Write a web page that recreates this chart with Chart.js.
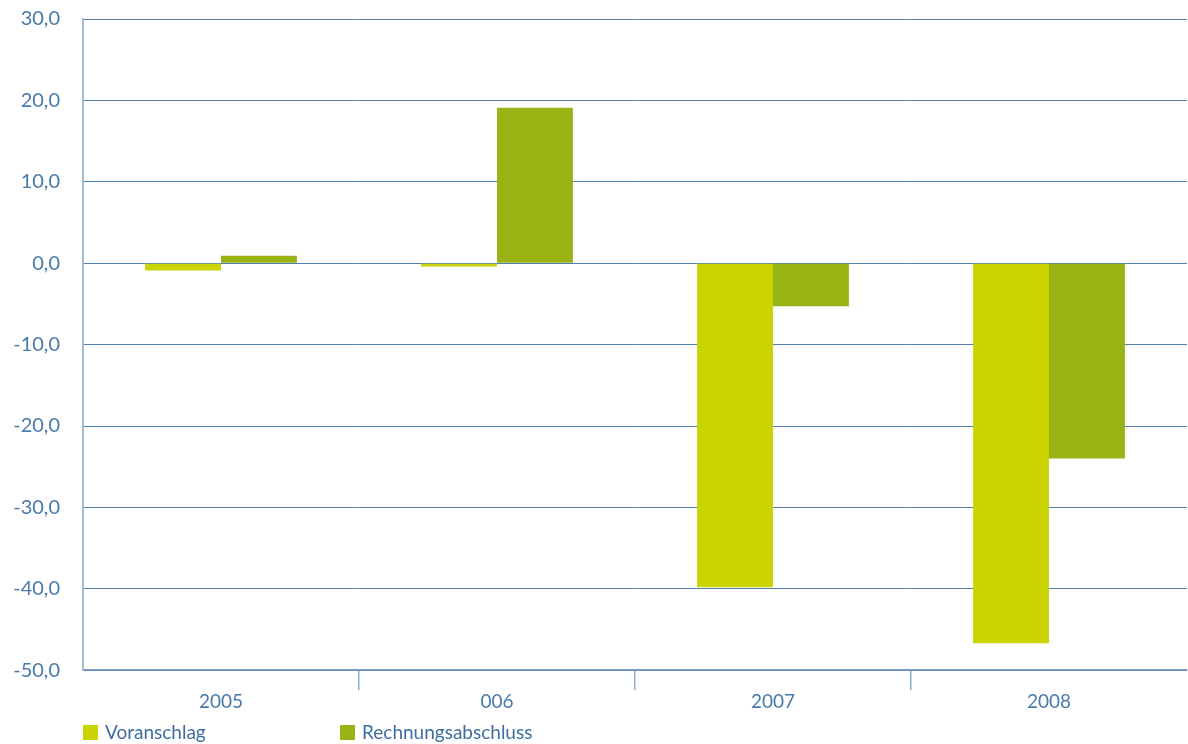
<!DOCTYPE html>
<html>
<head>
<meta charset="utf-8">
<script src="https://cdn.jsdelivr.net/npm/chart.js@4/dist/chart.umd.min.js"></script>
<style>
  html, body { margin: 0; padding: 0; background: #fff; }
  #wrap { position: relative; width: 1188px; height: 744px; }
  #legende { position: absolute; left: 83px; top: 720px; font-family: Lato, sans-serif; font-size: 19px; color: #3f6e9e; }
  .item { position: absolute; top: 0; white-space: nowrap; }
  .box { display: inline-block; width: 15px; height: 15px; vertical-align: -1px; margin-right: 7px; }
</style>
</head>
<body>
<div id="wrap">
  <canvas id="grafik" width="1188" height="744"></canvas>
  <div id="legende"></div>
</div>
<script>
// Daten
var jahre = ["2005", "006", "2007", "2008"];
var voranschlag = [-0.9, -0.4, -39.8, -46.7];
var rechnungsabschluss = [0.9, 19.1, -5.3, -24.0];

var farbeVoranschlag = "#c9d400";
var farbeRechnung = "#99b314";
var blau = "#4f80b0";
var textBlau = "#4a7aab";

// Rechter Rand über die letzte x-Gitterlinie, Striche unten nur zwischen den Jahren
var ctx = document.getElementById("grafik").getContext("2d");
var chart = new Chart(ctx, {
  type: "bar",
  data: {
    labels: jahre,
    datasets: [
      { label: "Voranschlag", data: voranschlag, backgroundColor: farbeVoranschlag, borderWidth: 0 },
      { label: "Rechnungsabschluss", data: rechnungsabschluss, backgroundColor: farbeRechnung, borderWidth: 0 }
    ]
  },
  options: {
    responsive: false,
    animation: false,
    layout: { padding: { top: 19, right: 1, bottom: 31, left: 0 } },
    plugins: { legend: { display: false }, tooltip: { enabled: false } },
    datasets: { bar: { categoryPercentage: 0.55, barPercentage: 1 } },
    scales: {
      x: {
        grid: {
          offset: true,
          drawOnChartArea: true,
          tickLength: 20,
          color: function (c) { return c.index === jahre.length ? "#8fabc8" : "rgba(0,0,0,0)"; },
          tickColor: function (c) { return (c.index > 0 && c.index < jahre.length) ? "#8fabc8" : "rgba(0,0,0,0)"; },
          lineWidth: 1.5
        },
        border: { display: true, color: "#7d9ec0", width: 1.5 },
        ticks: { color: textBlau, font: { family: "Lato", size: 19 }, padding: 0 }
      },
      y: {
        min: -50,
        max: 30,
        afterFit: function (scale) { scale.width = 83; },
        grid: { color: blau, drawTicks: true, tickLength: 21, tickColor: "rgba(0,0,0,0)", lineWidth: 1 },
        border: { display: true, color: "#a3bad2", width: 2 },
        ticks: {
          stepSize: 10,
          color: textBlau,
          font: { family: "Lato", size: 20, lineHeight: 1.0 },
          padding: 2,
          callback: function (v) { return v.toFixed(1).replace(".", ","); }
        }
      }
    }
  }
});

// Legende
var legende = document.getElementById("legende");
var positionen = [0, 257];
chart.data.datasets.forEach(function (ds, i) {
  var el = document.createElement("div");
  el.className = "item";
  el.style.left = positionen[i] + "px";
  el.innerHTML = '<span class="box" style="background:' + ds.backgroundColor + '"></span>' + ds.label;
  legende.appendChild(el);
});
</script>
</body>
</html>
